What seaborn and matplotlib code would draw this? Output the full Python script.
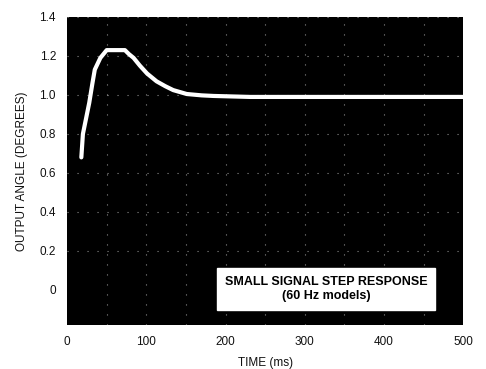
import matplotlib
matplotlib.use("Agg")
import matplotlib.pyplot as plt
import seaborn as sns
import pandas as pd

time_ms = [18, 20, 24, 28, 32, 35, 42, 50, 60, 73, 78, 84, 92, 101, 113, 124, 134, 151, 170, 185, 231, 300, 400, 500]
angle_deg = [0.68, 0.80, 0.88, 0.96, 1.06, 1.13, 1.19, 1.23, 1.23, 1.23, 1.21, 1.19, 1.15, 1.11, 1.07, 1.045, 1.025, 1.005, 0.998, 0.995, 0.99, 0.99, 0.99, 0.99]
x_ticks = [0, 100, 200, 300, 400, 500]
y_ticks = [0, 0.2, 0.4, 0.6, 0.8, 1.0, 1.2, 1.4]
y_tick_labels = ["0", "0.2", "0.4", "0.6", "0.8", "1.0", "1.2", "1.4"]

df = pd.DataFrame({"t": time_ms, "v": angle_deg})

sns.set_style("white")
plt.rcParams['font.family'] = ['Liberation Sans', 'DejaVu Sans']

fig = plt.figure(figsize=(4.86, 3.69), dpi=100)
ax = fig.add_axes([0.138, 0.119, 0.815, 0.835])
ax.set_facecolor("black")

sns.lineplot(data=df, x="t", y="v", ax=ax, color="white", linewidth=3.0)

ax.set_xlim(0, 500)
ax.set_ylim(-0.18, 1.4)
ax.set_xticks(x_ticks)
ax.set_xticklabels([str(t) for t in x_ticks])
ax.set_yticks(y_ticks)
ax.set_yticklabels(y_tick_labels)
ax.tick_params(axis="both", length=0, labelsize=8.5, pad=8, colors="#111111")

for xv in range(50, 500, 50):
    ax.axvline(xv, color="white", linestyle=(0, (1, 8)), linewidth=0.8, alpha=0.55, zorder=1)
for yv in y_ticks[1:]:
    ax.axhline(yv, color="white", linestyle=(0, (1, 8)), linewidth=0.8, alpha=0.55, zorder=1)

for s in ax.spines.values():
    s.set_visible(False)

ax.set_xlabel("TIME (ms)", fontsize=8.5, color="#111111", labelpad=6)
ax.set_ylabel("OUTPUT ANGLE (DEGREES)", fontsize=8.5, color="#111111", labelpad=8)

ax.text(327, 0.005, "SMALL SIGNAL STEP RESPONSE\n(60 Hz models)", ha="center", va="center",
        fontsize=9, fontweight="bold", color="black", linespacing=1.3,
        bbox=dict(boxstyle="square,pad=0.6", facecolor="white", edgecolor="white"), zorder=5)

fig.savefig("out.png", dpi=100)
